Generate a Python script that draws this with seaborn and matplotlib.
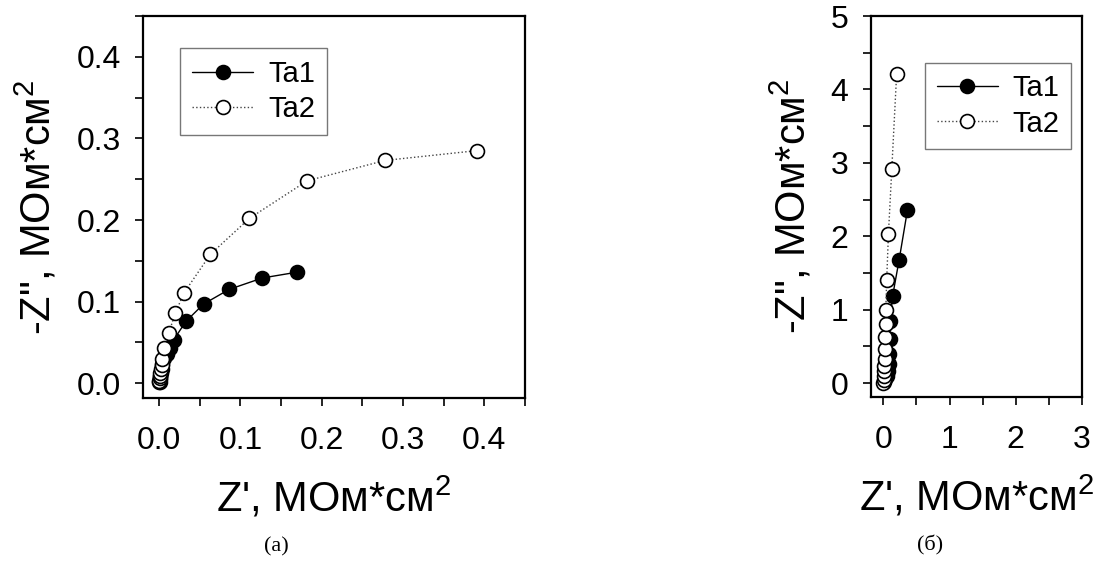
import pandas as pd
import numpy as np
import matplotlib
matplotlib.use("Agg")
import matplotlib.pyplot as plt
import seaborn as sns
from matplotlib.ticker import MultipleLocator, FormatStrFormatter

sns.set_style("ticks")
plt.rcParams.update({
    'font.family': ['Liberation Sans', 'DejaVu Sans'],
    'mathtext.fontset': 'custom',
    'mathtext.rm': 'Liberation Sans',
    'mathtext.it': 'Liberation Sans',
    'font.size': 23,
    'text.color': 'black',
    'axes.labelcolor': 'black',
})

# panel (a)
a_ta1_x = [0.0005, 0.001, 0.0015, 0.002, 0.003, 0.004, 0.006, 0.0095, 0.0135, 0.0176, 0.033, 0.0545, 0.086, 0.127, 0.169]
a_ta1_y = [0.002, 0.005, 0.009, 0.013, 0.018, 0.024, 0.031, 0.036, 0.043, 0.053, 0.076, 0.097, 0.115, 0.129, 0.136]
a_ta2_x = [0.0, 0.0003, 0.0006, 0.001, 0.0015, 0.002, 0.003, 0.004, 0.006, 0.0115, 0.0197, 0.030, 0.063, 0.111, 0.182, 0.278, 0.391]
a_ta2_y = [0.001, 0.003, 0.006, 0.009, 0.013, 0.017, 0.022, 0.030, 0.043, 0.061, 0.0855, 0.110, 0.158, 0.202, 0.248, 0.273, 0.285]

# panel (б)
b_ta1_x = [0.01, 0.03, 0.05, 0.07, 0.08, 0.09, 0.10, 0.10, 0.14, 0.238, 0.364]
b_ta1_y = [0.01, 0.05, 0.10, 0.17, 0.26, 0.39, 0.60, 0.84, 1.19, 1.68, 2.36]
b_ta2_x = [0.0, 0.004, 0.008, 0.012, 0.016, 0.02, 0.024, 0.028, 0.032, 0.036, 0.05, 0.076, 0.127, 0.20]
b_ta2_y = [0.0, 0.045, 0.10, 0.16, 0.23, 0.33, 0.47, 0.63, 0.80, 0.99, 1.41, 2.03, 2.92, 4.21]

xlabel = "Z', МОм*см$^2$"
ylabel = '-Z", МОм*см$^2$'

fig = plt.figure(figsize=(10.94, 5.61), dpi=100)
ax1 = fig.add_axes([0.1307, 0.2906, 0.349, 0.681])
ax2 = fig.add_axes([0.796, 0.2923, 0.193, 0.679])


def draw(ax, x1, y1, x2, y2):
    d1 = pd.DataFrame({"x": x1, "y": y1})
    d2 = pd.DataFrame({"x": x2, "y": y2})
    sns.lineplot(data=d1, x="x", y="y", ax=ax, estimator=None, sort=False,
                 color="black", lw=1, marker="o", markersize=10,
                 markerfacecolor="black", markeredgecolor="black", markeredgewidth=1.2,
                 label="Ta1")
    sns.lineplot(data=d2, x="x", y="y", ax=ax, estimator=None, sort=False,
                 color="#444444", lw=1, ls=":", marker="o", markersize=10,
                 markerfacecolor="white", markeredgecolor="black", markeredgewidth=1.2,
                 label="Ta2")
    for s in ax.spines.values():
        s.set_linewidth(1.6)
        s.set_color("black")
    ax.tick_params(which="both", direction="out", length=6, width=1.2, colors="black")
    ax.tick_params(axis="x", which="both", pad=14)
    ax.tick_params(axis="y", which="both", pad=10)
    ax.set_xlabel(xlabel, fontsize=30, labelpad=14)
    ax.set_ylabel(ylabel, fontsize=30, labelpad=12)
    leg = ax.legend(loc="upper left", fontsize=21, handlelength=2.1, fancybox=False,
                    frameon=True, borderpad=0.4, labelspacing=0.25, handletextpad=0.5,
                    borderaxespad=0)
    leg.get_frame().set_edgecolor("#555555")
    leg.get_frame().set_linewidth(1)
    return leg


l1 = draw(ax1, a_ta1_x, a_ta1_y, a_ta2_x, a_ta2_y)
ax1.set_xlim(-0.02, 0.45)
ax1.set_ylim(-0.018, 0.45)
ax1.xaxis.set_major_locator(MultipleLocator(0.1))
ax1.xaxis.set_minor_locator(MultipleLocator(0.05))
ax1.yaxis.set_major_locator(MultipleLocator(0.1))
ax1.yaxis.set_minor_locator(MultipleLocator(0.05))
ax1.xaxis.set_major_formatter(FormatStrFormatter('%.1f'))
ax1.yaxis.set_major_formatter(FormatStrFormatter('%.1f'))
l1.set_bbox_to_anchor((0.098, 0.915), transform=ax1.transAxes)

l2 = draw(ax2, b_ta1_x, b_ta1_y, b_ta2_x, b_ta2_y)
ax2.set_xlim(-0.19, 3.0)
ax2.set_ylim(-0.19, 5.0)
ax2.xaxis.set_major_locator(MultipleLocator(1))
ax2.xaxis.set_minor_locator(MultipleLocator(0.5))
ax2.yaxis.set_major_locator(MultipleLocator(1))
ax2.yaxis.set_minor_locator(MultipleLocator(0.5))
l2.set_bbox_to_anchor((0.256, 0.878), transform=ax2.transAxes)

fig.text(0.253, 0.025, "(a)", family="Liberation Serif", fontsize=16, ha="center", va="center")
fig.text(0.850, 0.028, "(б)", family="Liberation Serif", fontsize=16, ha="center", va="center")

fig.savefig("out.png", dpi=100)
